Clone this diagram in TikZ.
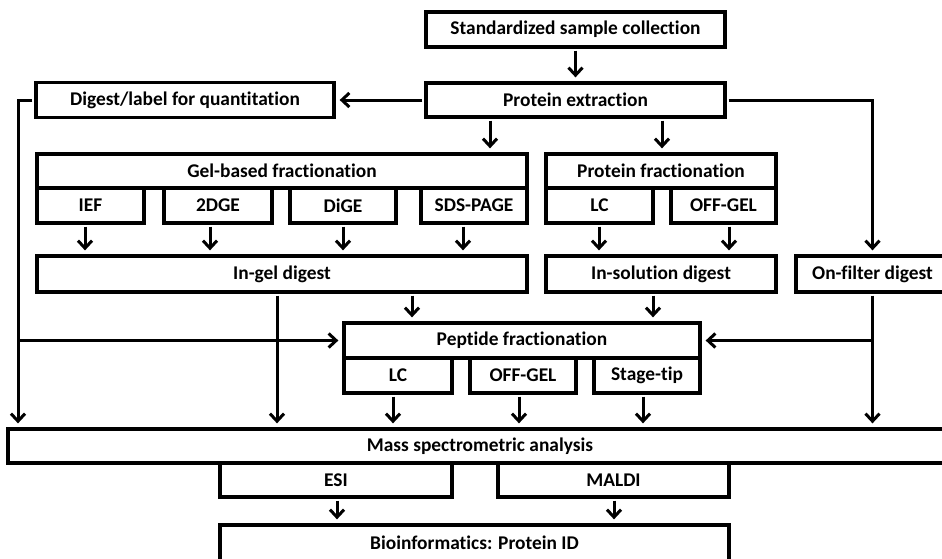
\documentclass[tikz,border=0pt]{standalone}
\usepackage{fontspec}
\setmainfont{Carlito}[Ligatures=NoCommon]
\usetikzlibrary{arrows.meta,calc}
\begin{document}
\begin{tikzpicture}[x=1pt,y=-1pt,
  box/.style={draw, line width=3.3pt, inner sep=0pt, font=\fontsize{19.4}{21}\selectfont\bfseries, fill=white},
  arr/.style={line width=3pt, -{Straight Barb[length=7.5pt,width=14pt]}, shorten >=4pt, shorten <=2pt},
  ln/.style={line width=3pt}]
\useasboundingbox (0,0) rectangle (942,558);
\clip (0,0) rectangle (942,558);
% boxes
\node[box, minimum width=299pt, minimum height=35pt] (std) at (575.5,29.5) {Standardized sample collection};
\node[box, minimum width=299pt, minimum height=34pt] (prot) at (575.5,100) {Protein extraction};
\node[box, minimum width=298pt, minimum height=35pt] (dl) at (185,100) {Digest/label for quantitation};
\node[box, minimum width=490pt, minimum height=34pt] (gel) at (282,171) {Gel-based fractionation};
\node[box, minimum width=107pt, minimum height=35pt] (ief) at (90.5,205.5) {IEF};
\node[box, minimum width=108pt, minimum height=35pt] (tdge) at (218,205.5) {2DGE};
\node[box, minimum width=106pt, minimum height=35pt] (dige) at (343,205.5) {DiGE};
\node[box, minimum width=106pt, minimum height=35pt] (sds) at (474,205.5) {SDS-PAGE};
\node[box, minimum width=230pt, minimum height=34pt] (pf) at (661,171) {Protein fractionation};
\node[box, minimum width=107pt, minimum height=35pt] (plc) at (599.5,205.5) {LC};
\node[box, minimum width=105pt, minimum height=35pt] (poff) at (723.5,205.5) {OFF-GEL};
\node[box, minimum width=490pt, minimum height=36pt] (ingel) at (282,274) {In-gel digest};
\node[box, minimum width=230pt, minimum height=36pt] (insol) at (661,274) {In-solution digest};
\node[box, minimum width=153pt, minimum height=36pt] (onf) at (872.5,274) {On-filter digest};
\node[box, minimum width=356pt, minimum height=35pt] (pep) at (522,340.5) {Peptide fractionation};
\node[box, minimum width=108pt, minimum height=35pt] (peplc) at (398,375.5) {LC};
\node[box, minimum width=106pt, minimum height=35pt] (pepoff) at (523,375.5) {OFF-GEL};
\node[box, minimum width=106pt, minimum height=35pt] (stage) at (647,375.5) {Stage-tip};
\node[box, minimum width=944pt, minimum height=34pt] (ms) at (480,446) {Mass spectrometric analysis};
\node[box, minimum width=232pt, minimum height=34pt] (esi) at (336,480) {ESI};
\node[box, minimum width=231pt, minimum height=34pt] (maldi) at (613.5,480) {MALDI};
\node[box, minimum width=509pt, minimum height=36pt] (bio) at (474.5,543) {Bioinformatics: Protein ID};
% connectors
\draw[arr] (std.south) -- (prot.north);
\draw[arr] (prot.west) -- (dl.east);
\draw[arr] (dl.west) -| (ms.north -| 18,0);
\draw[arr, shorten <=0pt] (18,0 |- pep.west) -- (pep.west);
\draw[arr] (prot.east) -| (onf.north);
\draw[arr] (onf.south) -- (onf.south |- ms.north);
\draw[arr, shorten <=0pt] (onf.south |- pep.east) -- (pep.east);
\draw[arr] (490,0 |- prot.south) -- (490,0 |- gel.north);
\draw[arr] (662,0 |- prot.south) -- (662,0 |- pf.north);
\foreach \xx/\src in {85/ief, 210/tdge, 343/dige, 463/sds}
  \draw[arr] (\xx,0 |- \src.south) -- (\xx,0 |- ingel.north);
\draw[arr] (599,0 |- plc.south) -- (599,0 |- insol.north);
\draw[arr] (729,0 |- poff.south) -- (729,0 |- insol.north);
\draw[arr] (277,0 |- ingel.south) -- (277,0 |- ms.north);
\draw[arr] (412,0 |- ingel.south) -- (412,0 |- pep.north);
\draw[arr] (653,0 |- insol.south) -- (653,0 |- pep.north);
\draw[arr] (393,0 |- peplc.south) -- (393,0 |- ms.north);
\draw[arr] (519,0 |- pepoff.south) -- (519,0 |- ms.north);
\draw[arr] (643,0 |- stage.south) -- (643,0 |- ms.north);
\draw[arr] (337,0 |- esi.south) -- (337,0 |- bio.north);
\draw[arr] (614,0 |- maldi.south) -- (614,0 |- bio.north);
\end{tikzpicture}
\end{document}
